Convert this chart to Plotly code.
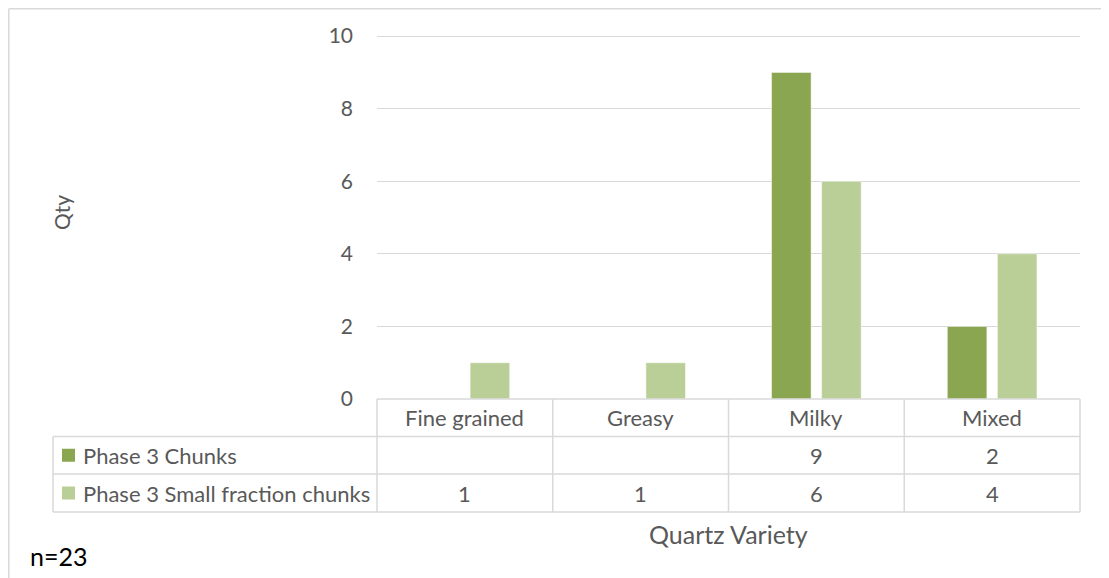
import plotly.graph_objects as go

categories = ["Fine grained", "Greasy", "Milky", "Mixed"]
series_names = ["Phase 3 Chunks", "Phase 3 Small fraction chunks"]
chunks = [None, None, 9, 2]
small_chunks = [1, 1, 6, 4]
series_values = [chunks, small_chunks]
series_colors = ["#8AA651", "#BACF97"]
y_ticks = [0, 2, 4, 6, 8, 10]

W, H = 1109, 578
OFF = 8  # page body margin
FONT = "Lato"
TXT = "#595959"
GRID = "#D9D9D9"

def px(x):
    return (x - OFF) / W

def py(y):
    return 1 - (y - OFF) / H

L, R, T, B = 377, 1080, 35, 399
Y_MAX = 10.03

fig = go.Figure()
for name, vals, col in zip(series_names, series_values, series_colors):
    fig.add_trace(go.Bar(
        x=categories, y=vals, name=name,
        marker=dict(color=col, line=dict(color="rgba(255,255,255,0.6)", width=0.8)),
        showlegend=False,
    ))

fig.update_layout(
    template="none",
    width=W, height=H,
    margin=dict(l=0, r=0, t=0, b=0, autoexpand=False),
    paper_bgcolor="white", plot_bgcolor="white",
    barmode="group", bargap=0.43, bargroupgap=0.21,
    font=dict(family=FONT, color=TXT, size=21),
    xaxis=dict(domain=[px(L), px(R)], range=[-0.5, 3.5], showticklabels=False,
               showgrid=False, zeroline=False, showline=False, ticks="",
               automargin=False),
    yaxis=dict(domain=[py(B), py(T)], range=[0, Y_MAX], tickvals=y_ticks,
               showgrid=True, gridcolor=GRID, gridwidth=1.3, zeroline=False,
               showline=False, ticks="", ticklabelstandoff=23, automargin=False,
               tickfont=dict(size=21, color=TXT, family=FONT)),
)

shapes = []
def line(x0, y0, x1, y1, color=GRID, w=1.5):
    shapes.append(dict(type="line", xref="paper", yref="paper",
                       x0=px(x0), y0=py(y0), x1=px(x1), y1=py(y1),
                       line=dict(color=color, width=w)))

# outer chart border (left/top edges sit just inside the figure)
bl, bt, br = max(7.5, OFF + 0.8), max(6.5, OFF + 0.8), 1108
line(bl, bt, br, bt)
line(bl, bt, bl, 590)
line(br, bt, br, 590)

# data table
col_edges = [L + i * (R - L) / len(categories) for i in range(len(categories) + 1)]
row_edges = [B, 436.5, 474, 512]
line(L, row_edges[0], R, row_edges[0])
for yv in row_edges[1:]:
    line(53, yv, R, yv)
line(53, row_edges[1], 53, row_edges[3])
for xv in col_edges:
    line(xv, row_edges[0], xv, row_edges[3])

annotations = []
def text(x, y, s, size=22, color=TXT, xanchor="center", **kw):
    annotations.append(dict(xref="paper", yref="paper", x=px(x), y=py(y), text=s,
                            showarrow=False, xanchor=xanchor, yanchor="middle",
                            font=dict(family=FONT, size=size, color=color), **kw))

for i, c in enumerate(categories):
    cx = (col_edges[i] + col_edges[i + 1]) / 2
    text(cx, (row_edges[0] + row_edges[1]) / 2, c)
    for r, vals in enumerate(series_values):
        v = vals[i]
        if v is not None:
            text(cx, (row_edges[r + 1] + row_edges[r + 2]) / 2, str(v))

for r, (name, col) in enumerate(zip(series_names, series_colors)):
    yc = (row_edges[r + 1] + row_edges[r + 2]) / 2
    shapes.append(dict(type="rect", xref="paper", yref="paper",
                       x0=px(62), x1=px(75), y0=py(yc + 6.5), y1=py(yc - 6.5),
                       fillcolor=col, line=dict(width=0)))
    text(81, yc, name, xanchor="left")

text(61, 213, "Qty", size=21, textangle=-90)
text((L + R) / 2, 534, "Quartz Variety", size=25)
text(28, 556, "n=23", size=25, color="#000000", xanchor="left")

fig.update_layout(shapes=shapes, annotations=annotations)
fig.write_html("out.html")
